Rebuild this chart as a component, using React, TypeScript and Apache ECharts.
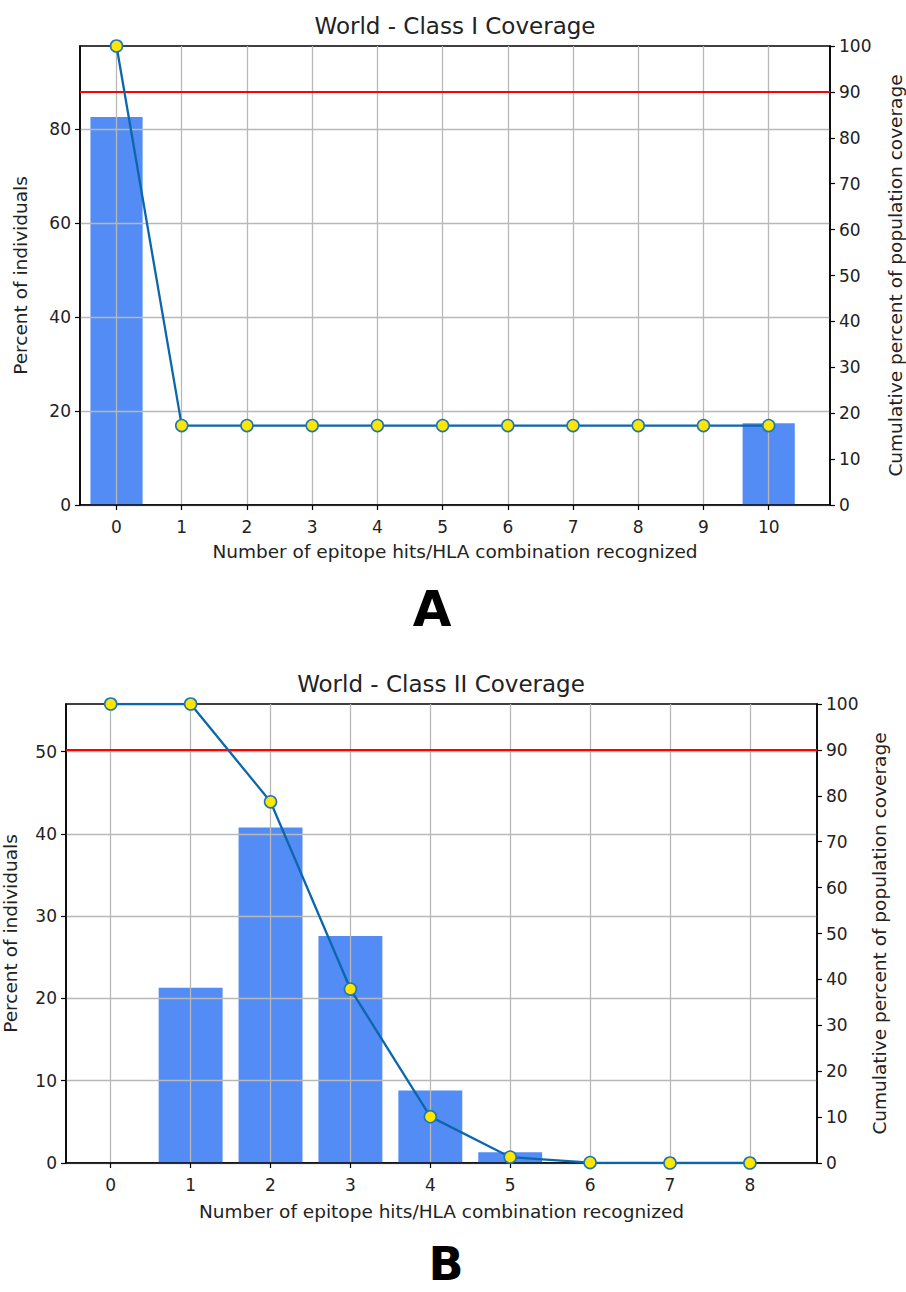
import React, { useEffect, useRef } from "react";
import * as echarts from "echarts";

// ---- Data ----
const classIHits = [0, 1, 2, 3, 4, 5, 6, 7, 8, 9, 10];
const classIPercent = [82.6, 0, 0, 0, 0, 0, 0, 0, 0, 0, 17.4];
const classICumulative = [100, 17.3, 17.3, 17.3, 17.3, 17.3, 17.3, 17.3, 17.3, 17.3, 17.3];

const classIIHits = [0, 1, 2, 3, 4, 5, 6, 7, 8];
const classIIPercent = [0, 21.3, 40.8, 27.6, 8.8, 1.3, 0, 0, 0];
const classIICumulative = [100, 100, 78.7, 37.9, 10.1, 1.3, 0.1, 0, 0];

const leftTicksI = [0, 20, 40, 60, 80];
const leftTicksII = [0, 10, 20, 30, 40, 50];
const threshold = 90;

const titleI = "World - Class I Coverage";
const titleII = "World - Class II Coverage";
const xName = "Number of epitope hits/HLA combination recognized";
const leftName = "Percent of individuals";
const rightName = "Cumulative percent of population coverage";

const FONT = "DejaVu Sans";
const BAR = "#528cf4";
const LINE = "#0b67ac";
const MARK_EDGE = "#1f77b4";
const YELLOW = "#ffe600";
const GRIDC = "#b8b8b8";
const TICK_FS = 17;
const NAME_FS = 18.5;
const BAR_HALF = 0.4; // bar width 0.8 in data units (matplotlib default)

function xAxisCfg(gridIndex: number, hits: number[], min: number, max: number, gap: number) {
  return {
    type: "value",
    gridIndex,
    min,
    max,
    z: 3,
    name: xName,
    nameLocation: "middle",
    nameGap: gap,
    nameTextStyle: { fontFamily: FONT, fontSize: NAME_FS, color: "#222" },
    axisLine: { show: true, onZero: false, lineStyle: { color: "#000", width: 1.5 } },
    axisTick: { show: true, length: 5, customValues: hits, lineStyle: { color: "#000", width: 1.2 } },
    axisLabel: { customValues: hits, margin: 13, fontFamily: FONT, fontSize: TICK_FS, color: "#222" },
    splitLine: { show: true, lineStyle: { color: GRIDC, width: 1.3 } },
  };
}

function leftAxisCfg(gridIndex: number, ticks: number[], max: number, gap: number) {
  return {
    type: "value",
    gridIndex,
    position: "left",
    min: 0,
    max,
    z: 3,
    name: leftName,
    nameLocation: "middle",
    nameGap: gap,
    nameTextStyle: { fontFamily: FONT, fontSize: NAME_FS, color: "#222" },
    axisLine: { show: true, onZero: false, lineStyle: { color: "#000", width: 1.5 } },
    axisTick: { show: true, length: 5, customValues: ticks, lineStyle: { color: "#000", width: 1.2 } },
    axisLabel: { customValues: ticks, margin: 9, fontFamily: FONT, fontSize: TICK_FS, color: "#222" },
    splitLine: { show: true, lineStyle: { color: GRIDC, width: 1.3 } },
  };
}

function rightAxisCfg(gridIndex: number, gap: number) {
  return {
    type: "value",
    gridIndex,
    position: "right",
    min: 0,
    max: 100,
    interval: 10,
    z: 3,
    name: rightName,
    nameLocation: "middle",
    nameGap: gap,
    nameTextStyle: { fontFamily: FONT, fontSize: NAME_FS, color: "#222" },
    axisLine: { show: true, onZero: false, lineStyle: { color: "#000", width: 1.5 } },
    axisTick: { show: true, length: 5, lineStyle: { color: "#000", width: 1.2 } },
    axisLabel: { margin: 9, fontFamily: FONT, fontSize: TICK_FS, color: "#222" },
    splitLine: { show: false },
  };
}

function barSeries(axisIdx: number, hits: number[], vals: number[]) {
  return {
    type: "custom",
    xAxisIndex: axisIdx,
    yAxisIndex: axisIdx * 2,
    data: hits.map((h, i) => [h, vals[i]]),
    encode: { x: 0, y: 1 },
    z: 2,
    renderItem: (params: any, api: any) => {
      const x = api.value(0);
      const y = api.value(1);
      const tl = api.coord([x - BAR_HALF, y]);
      const br = api.coord([x + BAR_HALF, 0]);
      return {
        type: "rect",
        shape: { x: tl[0], y: tl[1], width: br[0] - tl[0], height: br[1] - tl[1] },
        style: { fill: BAR },
      };
    },
  };
}

function lineSeries(axisIdx: number, hits: number[], vals: number[]) {
  return {
    type: "line",
    xAxisIndex: axisIdx,
    yAxisIndex: axisIdx * 2 + 1,
    data: hits.map((h, i) => [h, vals[i]]),
    symbol: "circle",
    symbolSize: 12,
    lineStyle: { color: LINE, width: 2.3 },
    itemStyle: { color: YELLOW, borderColor: MARK_EDGE, borderWidth: 1.6 },
    z: 5,
    markLine: {
      silent: true,
      symbol: "none",
      label: { show: false },
      lineStyle: { color: "#ff0000", width: 2, type: "solid" },
      data: [{ yAxis: threshold }],
    },
  };
}

export default function App() {
  const ref = useRef<HTMLDivElement>(null);
  useEffect(() => {
    if (!ref.current) return;
    const chart = echarts.init(ref.current, null, { renderer: "svg" });
    chart.setOption({
      animation: false,
      backgroundColor: "#fff",
      title: [
        {
          text: titleI,
          left: 455,
          top: 14,
          padding: 0,
          textAlign: "center",
          textStyle: { fontFamily: FONT, fontSize: 23, fontWeight: "normal", color: "#222" },
        },
        {
          text: titleII,
          left: 441,
          top: 672,
          padding: 0,
          textAlign: "center",
          textStyle: { fontFamily: FONT, fontSize: 23, fontWeight: "normal", color: "#222" },
        },
        {
          text: "A",
          left: 432,
          top: 584,
          padding: 0,
          textAlign: "center",
          textStyle: { fontFamily: FONT, fontSize: 50, fontWeight: "bold", color: "#000" },
        },
        {
          text: "B",
          left: 446,
          top: 1241,
          padding: 0,
          textAlign: "center",
          textStyle: { fontFamily: FONT, fontSize: 46, fontWeight: "bold", color: "#000" },
        },
      ],
      grid: [
        { left: 80, top: 46, width: 750, height: 459, outerBoundsMode: "none", containLabel: false, show: true, borderColor: "#000", borderWidth: 1.5, backgroundColor: "transparent" },
        { left: 66, top: 704, width: 751, height: 459, outerBoundsMode: "none", containLabel: false, show: true, borderColor: "#000", borderWidth: 1.5, backgroundColor: "transparent" },
      ],
      xAxis: [
        xAxisCfg(0, classIHits, -0.56, 10.94, 37),
        xAxisCfg(1, classIIHits, -0.56, 8.84, 39),
      ],
      yAxis: [
        leftAxisCfg(0, leftTicksI, 97.7, 50),
        rightAxisCfg(0, 56),
        leftAxisCfg(1, leftTicksII, 55.8, 46),
        rightAxisCfg(1, 53),
      ],
      series: [
        barSeries(0, classIHits, classIPercent),
        lineSeries(0, classIHits, classICumulative),
        barSeries(1, classIIHits, classIIPercent),
        lineSeries(1, classIIHits, classIICumulative),
      ],
    });
    return () => chart.dispose();
  }, []);
  return (
    <div
      ref={ref}
      style={{ position: "absolute", left: 0, top: 0, width: 906, height: 1292 }}
    />
  );
}
